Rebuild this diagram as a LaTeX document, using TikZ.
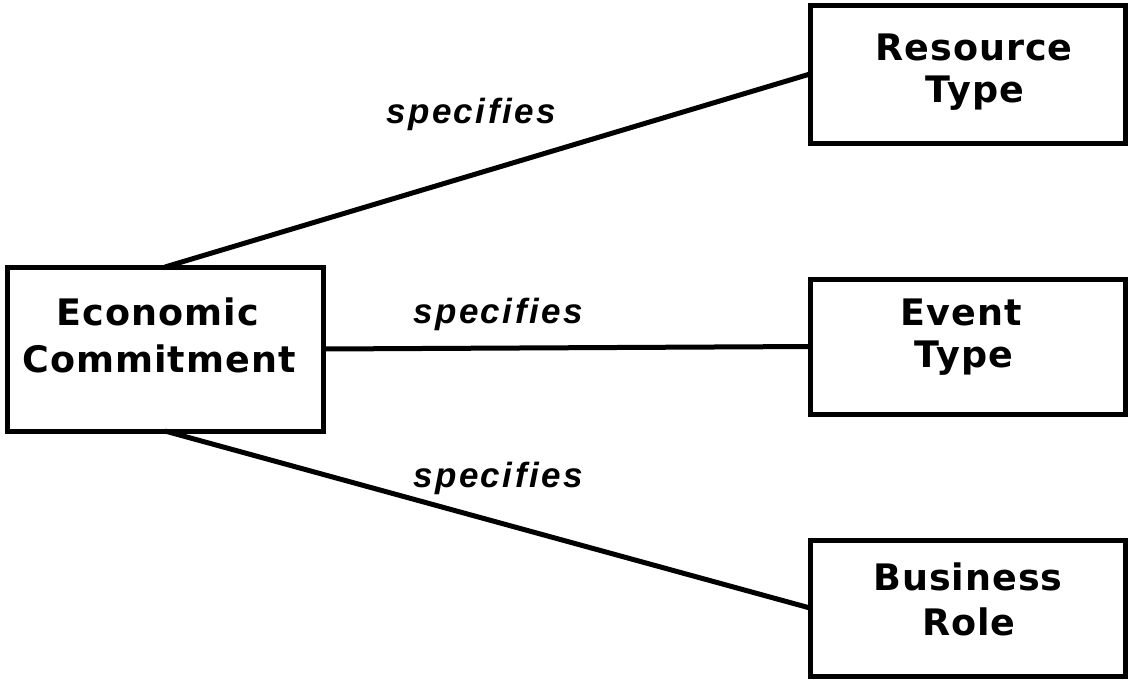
\documentclass[tikz,border=0pt]{standalone}
\usepackage{fontspec}
\newfontfamily\boxfont[LetterSpace=2.8]{DejaVu Sans}
\newfontfamily\relfont[LetterSpace=7]{Liberation Sans}
\tikzset{
  box/.style={draw, line width=5pt, inner sep=0pt, outer sep=0pt},
  boxtext/.style={anchor=base, inner sep=0pt, font=\boxfont\bfseries\fontsize{36.5}{44}\selectfont},
  reltext/.style={anchor=base, inner sep=0pt, font=\relfont\bfseries\itshape\fontsize{35}{42}\selectfont},
  conn/.style={line width=5pt}
}
\begin{document}
\begin{tikzpicture}[x=1pt,y=-1pt]
\useasboundingbox (0,0) rectangle (1129,681);
\node[box, minimum width=316pt, minimum height=164pt] (ec) at (165,349) {};
\node[box, minimum width=315pt, minimum height=138pt] (rt) at (967.5,74) {};
\node[box, minimum width=315pt, minimum height=135pt] (et) at (967.5,346.5) {};
\node[box, minimum width=315pt, minimum height=136pt] (br) at (967.5,608) {};
\node[boxtext] (ec1) at (158,325) {Economic};
\node[boxtext] (ec2) at (159,372) {Commitment};
\node[boxtext] (rt1) at (974,60) {Resource};
\node[boxtext] (rt2) at (975,102) {Type};
\node[boxtext] (et1) at (961,325) {Event};
\node[boxtext] (et2) at (964,367) {Type};
\node[boxtext] (br1) at (968,590) {Business};
\node[boxtext] (br2) at (969,635) {Role};
\draw[conn] (ec.north) -- (rt.west);
\draw[conn] (ec.east) -- (et.west);
\draw[conn] (ec.south) -- (br.west);
\node[reltext] (l1) at (471,123) {specifies};
\node[reltext] (l2) at (498,323) {specifies};
\node[reltext] (l3) at (498,487) {specifies};
\end{tikzpicture}
\end{document}
